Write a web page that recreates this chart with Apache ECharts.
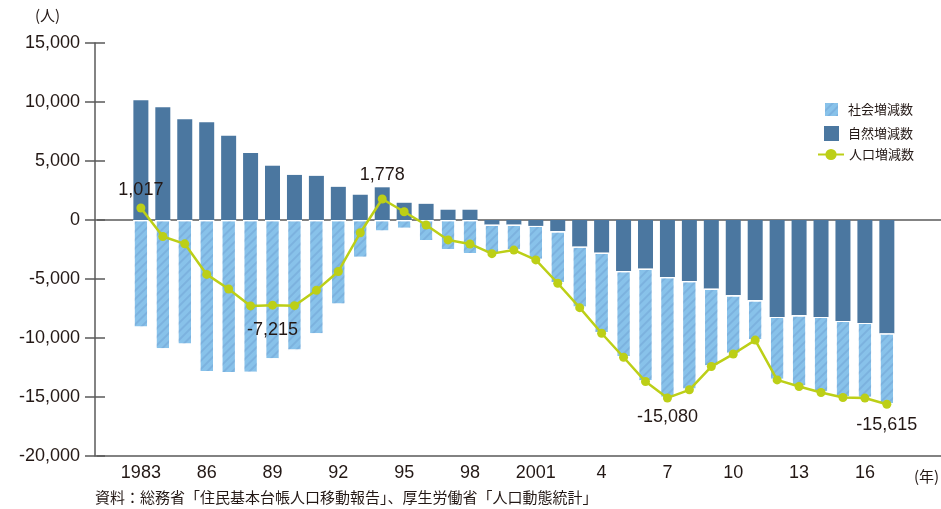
<!DOCTYPE html>
<html>
<head>
<meta charset="utf-8">
<script src="https://cdn.jsdelivr.net/npm/echarts@6/dist/echarts.min.js"></script>
<style>
  html, body { margin: 0; padding: 0; background: #ffffff; }
  #chart { width: 941px; height: 509px; }
</style>
</head>
<body>
<div id="chart"></div>
<script>
// 年次
const years = [1983, 1984, 1985, 1986, 1987, 1988, 1989, 1990, 1991, 1992,
               1993, 1994, 1995, 1996, 1997, 1998, 1999, 2000, 2001, 2002,
               2003, 2004, 2005, 2006, 2007, 2008, 2009, 2010, 2011, 2012,
               2013, 2014, 2015, 2016, 2017];

// 横軸の区分（前後に余白の年を含む）
const axisYears = [1981, 1982, 1983, 1984, 1985, 1986, 1987, 1988, 1989, 1990,
                   1991, 1992, 1993, 1994, 1995, 1996, 1997, 1998, 1999, 2000,
                   2001, 2002, 2003, 2004, 2005, 2006, 2007, 2008, 2009, 2010,
                   2011, 2012, 2013, 2014, 2015, 2016, 2017, 2018, 2019, 2020];

// 自然増減数（人）
const naturalChange = [10150, 9560, 8540, 8290, 7130, 5680, 4600, 3820, 3740, 2810,
                       2140, 2770, 1460, 1370, 870, 870, -400, -400, -500, -960,
                       -2260, -2780, -4330, -4130, -4840, -5180, -5820, -6380, -6800, -8210,
                       -8070, -8210, -8550, -8720, -9610];

// 社会増減数（人）
const socialChange = [-9133, -10960, -10560, -12900, -12980, -12960, -11815, -11080, -9700, -7170,
                      -3220, -992, -760, -1790, -2560, -2900, -2450, -2150, -2880, -4400,
                      -5170, -6820, -7300, -9560, -10240, -9210, -6600, -4980, -3380, -5340,
                      -6040, -6410, -6490, -6370, -6005];

// 人口増減数（人）
const totalChange = [1017, -1400, -2020, -4610, -5850, -7280, -7215, -7260, -5960, -4360,
                     -1080, 1778, 700, -420, -1690, -2030, -2850, -2550, -3380, -5360,
                     -7430, -9600, -11630, -13690, -15080, -14390, -12420, -11360, -10180, -13550,
                     -14110, -14620, -15040, -15090, -15615];

// 横軸の目盛ラベル
const xTickYears  = [1983, 1986, 1989, 1992, 1995, 1998, 2001, 2004, 2007, 2010, 2013, 2016];
const xTickLabels = ['1983', '86', '89', '92', '95', '98', '2001', '4', '7', '10', '13', '16'];

// 縦軸の範囲と目盛
const yMin = -20000, yMax = 15000, yStep = 5000;

// 数値を表示する年と表示位置
const labelledYears = { 1983: 'top', 1994: 'top', 1989: 'bottom', 2007: 'bottom', 2017: 'bottom' };
const labelDistance = { 1983: 4, 1994: 10, 1989: 11, 2007: 6, 2017: 7 };

const TEXT = '#231815';
const AXIS = '#5a5a5a';
const NUM_FONT = '"Liberation Sans", Arial, Helvetica, sans-serif';
const JP_FONT = '"Noto Sans CJK JP", "Noto Sans", sans-serif';

const fmt = v => v.toLocaleString('en-US');

const pair = arr => years.map((y, i) => [String(y), arr[i]]);

const totalData = years.map((y, i) => {
  const item = { value: [String(y), totalChange[i]] };
  if (labelledYears[y]) {
    item.label = {
      show: true,
      position: labelledYears[y],
      distance: labelDistance[y],
      formatter: p => fmt(p.value[1]),
      fontSize: 18,
      fontFamily: NUM_FONT,
      color: TEXT
    };
  }
  return item;
});

// 社会増減数の斜線模様
const stripe = {
  symbol: 'rect',
  symbolSize: 1,
  color: 'rgba(80,125,180,0.22)',
  dashArrayX: [1, 0],
  dashArrayY: [2, 4],
  rotation: -Math.PI / 4
};

const chart = echarts.init(document.getElementById('chart'), null, { renderer: 'canvas' });

chart.setOption({
  animation: false,
  backgroundColor: '#ffffff',
  grid: { left: 97, top: 43, bottom: 53, width: 855.66, containLabel: false, outerBoundsMode: 'none' },
  legend: [
    {
      data: ['社会増減数', '自然増減数'],
      orient: 'vertical',
      left: 818, top: 96,
      itemWidth: 15, itemHeight: 15, itemGap: 8,
      icon: 'rect',
      textStyle: { fontSize: 13, color: TEXT, fontFamily: JP_FONT, padding: [0, 0, 0, 4] }
    },
    {
      data: ['人口増減数'],
      orient: 'vertical',
      left: 812, top: 143,
      itemWidth: 26, itemHeight: 14,
      textStyle: { fontSize: 13, color: TEXT, fontFamily: JP_FONT, padding: [0, 0, 0, 0] }
    }
  ],
  xAxis: {
    type: 'category',
    data: axisYears.map(String),
    boundaryGap: false,
    axisLine: { show: true, onZero: false, lineStyle: { color: AXIS, width: 1.5 } },
    axisTick: { show: false },
    splitLine: { show: false },
    axisLabel: {
      interval: 0,
      fontSize: 18, color: TEXT, fontFamily: NUM_FONT, margin: 8,
      formatter: v => {
        const k = xTickYears.indexOf(Number(v));
        return k >= 0 ? xTickLabels[k] : '';
      }
    }
  },
  yAxis: [
    {
      type: 'value',
      min: yMin, max: yMax, interval: yStep,
      offset: 2,
      axisLine: { show: true, onZero: false, lineStyle: { color: AXIS, width: 1.5 } },
      axisTick: { show: true, length: 10, lineStyle: { color: AXIS, width: 1.5 } },
      splitLine: { show: false },
      axisLabel: { fontSize: 18, color: TEXT, fontFamily: NUM_FONT, margin: 15, formatter: v => fmt(v) }
    },
    {
      type: 'value',
      min: yMin, max: yMax, interval: yStep,
      position: 'left', offset: 2,
      axisLine: { show: false },
      axisTick: { show: true, inside: true, length: 10, lineStyle: { color: AXIS, width: 1.5 } },
      axisLabel: { show: false },
      splitLine: { show: false }
    }
  ],
  series: [
    {
      name: '自然増減数',
      type: 'bar',
      stack: 'change',
      barWidth: 15,
      data: pair(naturalChange),
      itemStyle: { color: '#4b77a0' }
    },
    {
      name: '社会増減数',
      type: 'bar',
      stack: 'change',
      barWidth: 15,
      data: pair(socialChange),
      itemStyle: { color: '#88c2ea', borderColor: '#ffffff', borderWidth: 1.2, decal: stripe }
    },
    {
      name: '人口増減数',
      type: 'line',
      z: 10,
      data: totalData,
      symbol: 'circle',
      symbolSize: 9,
      lineStyle: { color: '#bccf17', width: 2.5 },
      itemStyle: { color: '#bccf17' },
      markLine: {
        silent: true,
        symbol: 'none',
        label: { show: false },
        lineStyle: { color: AXIS, width: 1.5, type: 'solid' },
        data: [{ yAxis: 0 }],
        z: 1
      }
    }
  ],
  graphic: [
    { type: 'text', left: 35, top: 8, style: { text: '(人)', fontSize: 15, fill: TEXT, fontFamily: JP_FONT } },
    { type: 'text', left: 914, top: 469, style: { text: '(年)', fontSize: 15, fill: TEXT, fontFamily: JP_FONT } },
    { type: 'text', left: 95, top: 490, style: { text: '資料：総務省「住民基本台帳人口移動報告」、厚生労働省「人口動態統計」', fontSize: 15, fill: TEXT, fontFamily: JP_FONT } }
  ]
});
</script>
</body>
</html>
